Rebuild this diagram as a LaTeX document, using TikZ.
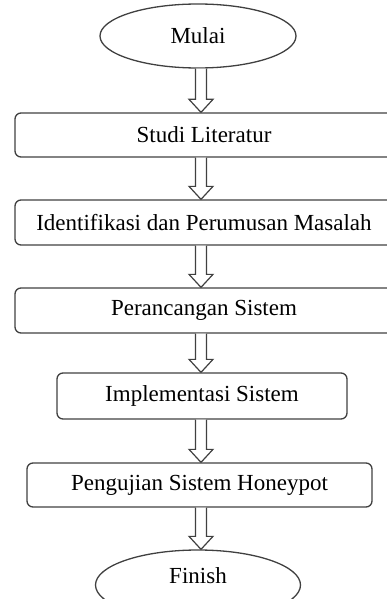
\documentclass[tikz,border=0pt]{standalone}
\usepackage{fontspec}
\setmainfont{Liberation Serif}
\usetikzlibrary{shapes.geometric,calc}

% block arrow from the bottom of #1 to the top of #2
\newcommand{\flowarrow}[2]{%
  \draw[flowarrow] ($(#1.south -| spine)+(-5.5,0)$) -- ($(#2.north -| spine)+(-5.5,13)$)
    -- ($(#2.north -| spine)+(-12,13)$) -- (#2.north -| spine)
    -- ($(#2.north -| spine)+(12,13)$) -- ($(#2.north -| spine)+(5.5,13)$)
    -- ($(#1.south -| spine)+(5.5,0)$);}

\begin{document}
\begin{tikzpicture}[x=1pt, y=1pt,
  every node/.style={font=\fontsize{23}{27}\selectfont, text=black},
  terminal/.style={ellipse, draw=black!75, line width=1.3pt, inner sep=0pt},
  process/.style={rectangle, rounded corners=6pt, draw=black!75, line width=1.3pt, inner sep=0pt},
  flowarrow/.style={draw=black!75, line width=1.2pt, fill=white, line join=miter}]

  \useasboundingbox (0,0) rectangle (386,-599);
  \coordinate (spine) at (201,0);

  % Start and end
  \node[terminal, minimum width=196pt, minimum height=64pt] (mulai) at (198,-36) {Mulai};
  \node[terminal, minimum width=205pt, minimum height=70pt, text depth=18pt] (finish) at (198,-585) {Finish};

  % Steps
  \node[process, minimum width=378pt, minimum height=44pt] (studi) at (204,-135) {Studi Literatur};
  \node[process, minimum width=378pt, minimum height=45pt] (identifikasi) at (204,-222.5) {Identifikasi dan Perumusan Masalah};
  \node[process, minimum width=378pt, minimum height=45pt] (perancangan) at (204,-310.5) {Perancangan Sistem};
  \node[process, minimum width=290pt, minimum height=46pt] (implementasi) at (202,-396) {Implementasi Sistem};
  \node[process, minimum width=345pt, minimum height=44pt] (pengujian) at (199.5,-485) {Pengujian Sistem Honeypot};

  % Arrows
  \flowarrow{mulai}{studi}
  \flowarrow{studi}{identifikasi}
  \flowarrow{identifikasi}{perancangan}
  \flowarrow{perancangan}{implementasi}
  \flowarrow{implementasi}{pengujian}
  \flowarrow{pengujian}{finish}

\end{tikzpicture}
\end{document}
